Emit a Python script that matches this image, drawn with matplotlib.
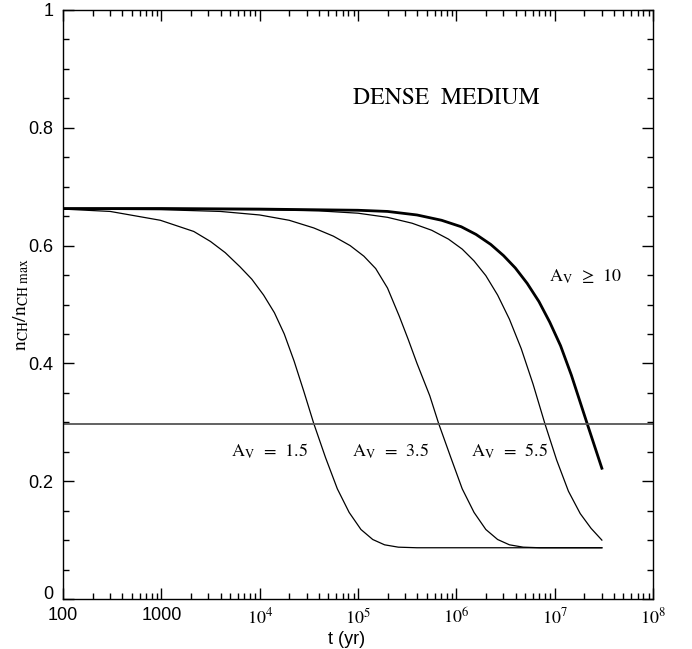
import numpy as np
import matplotlib
matplotlib.use('Agg')
import matplotlib.pyplot as plt
import matplotlib.transforms as mtransforms
from matplotlib.ticker import MultipleLocator, LogLocator, FixedLocator, FixedFormatter

plt.rcParams['mathtext.fontset'] = 'stix'
tickfont = ['Liberation Sans Narrow', 'Liberation Sans', 'DejaVu Sans']

# curves: log10(t/yr) and n_CH / n_CH max
av15_logt = [2.0, 2.48, 2.99, 3.33, 3.50, 3.65, 3.80, 3.92, 4.04, 4.15, 4.25, 4.35, 4.45, 4.55, 4.67, 4.79,
             4.91, 5.03, 5.15, 5.27, 5.41, 5.6, 7.48]
av15_n = [0.662, 0.658, 0.643, 0.624, 0.607, 0.588, 0.564, 0.543, 0.516, 0.486, 0.450, 0.404, 0.352, 0.298, 0.240, 0.187,
          0.147, 0.118, 0.101, 0.092, 0.088, 0.087, 0.087]

av35_logt = [2.0, 3.0, 3.6, 4.0, 4.3, 4.55, 4.75, 4.92, 5.06, 5.18, 5.30, 5.42, 5.51, 5.60, 5.73, 5.82,
             5.94, 6.06, 6.18, 6.30, 6.42, 6.54, 6.68, 6.85, 7.48]
av35_n = [0.662, 0.661, 0.658, 0.652, 0.643, 0.630, 0.616, 0.600, 0.582, 0.561, 0.528, 0.480, 0.441, 0.400, 0.345, 0.298,
          0.242, 0.187, 0.147, 0.118, 0.101, 0.092, 0.088, 0.087, 0.087]

av55_logt = [2.0, 4.0, 4.6, 5.0, 5.3, 5.55, 5.75, 5.92, 6.06, 6.18, 6.30, 6.42, 6.54, 6.66, 6.78, 6.90,
             7.02, 7.14, 7.26, 7.37, 7.48]
av55_n = [0.662, 0.661, 0.659, 0.655, 0.648, 0.638, 0.626, 0.611, 0.594, 0.574, 0.549, 0.516, 0.475, 0.425, 0.365, 0.298,
          0.236, 0.183, 0.145, 0.120, 0.100]

av10_logt = [2.0, 3.0, 4.0, 4.5, 5.0, 5.3, 5.6, 5.85, 6.05, 6.2, 6.35, 6.48, 6.6, 6.72, 6.84, 6.95, 7.06, 7.17, 7.33, 7.48]
av10_n = [0.663, 0.663, 0.662, 0.661, 0.660, 0.658, 0.652, 0.643, 0.632, 0.619, 0.602, 0.583, 0.562, 0.536, 0.505, 0.470,
          0.430, 0.380, 0.298, 0.222]

threshold = 0.297

labels = [r'A$_{\rm V}$  =  1.5', r'A$_{\rm V}$  =  3.5', r'A$_{\rm V}$  =  5.5', 'A$_{\\rm V}$  \u2265  10']
label_t = [1.25e4, 2.15e5, 3.45e6, 2.05e7]
label_n = [0.25, 0.25, 0.25, 0.547]

xticks = [1e2, 1e3, 1e4, 1e5, 1e6, 1e7, 1e8]
xticklabels = ['100', '1000', r'$10^{4}$', r'$10^{5}$', r'$10^{6}$', r'$10^{7}$', r'$10^{8}$']
yticks = [0, 0.2, 0.4, 0.6, 0.8, 1.0]
yticklabels = ['0', '0.2', '0.4', '0.6', '0.8', '1']

fig = plt.figure(figsize=(6.92, 6.49), dpi=100)
ax = fig.add_axes([63/692, 50/649, 590/692, 589/649])

ax.plot(10**np.array(av15_logt), av15_n, color='black', lw=0.9)
ax.plot(10**np.array(av35_logt), av35_n, color='black', lw=0.9)
ax.plot(10**np.array(av55_logt), av55_n, color='black', lw=0.9)
ax.plot(10**np.array(av10_logt), av10_n, color='black', lw=2.0)
ax.axhline(threshold, color='#555555', lw=1.3)

for s, x, y in zip(labels, label_t, label_n):
    ax.text(x, y, s, fontsize=13, family='STIXGeneral', ha='center', va='center')

ax.text(7.9e5, 0.85, 'DENSE  MEDIUM', fontsize=17, family='STIXGeneral', ha='center', va='center')

ax.set_xscale('log')
ax.set_xlim(100, 1e8)
ax.set_ylim(0, 1)

ax.xaxis.set_major_locator(FixedLocator(xticks))
ax.xaxis.set_major_formatter(FixedFormatter(xticklabels))
ax.xaxis.set_minor_locator(LogLocator(base=10, subs=np.arange(2, 10), numticks=20))
ax.xaxis.set_minor_formatter(plt.NullFormatter())
ax.yaxis.set_major_locator(FixedLocator(yticks))
ax.yaxis.set_major_formatter(FixedFormatter(yticklabels))
ax.yaxis.set_minor_locator(MultipleLocator(0.05))

ax.tick_params(which='both', direction='in', top=True, right=True, width=1, color='black')
ax.tick_params(which='major', length=8)
ax.tick_params(which='minor', length=4.5)
ax.tick_params(axis='x', which='major', pad=6, labelsize=13)
ax.tick_params(axis='y', which='major', pad=7, labelsize=13)
for lab in ax.get_xticklabels() + ax.get_yticklabels():
    lab.set_family(tickfont)

# lift the "0" a little so it sits above the "100"
ylabs = ax.get_yticklabels()
ylabs[0].set_transform(ylabs[0].get_transform() + mtransforms.ScaledTranslation(0, 5/72, fig.dpi_scale_trans))

for sp in ax.spines.values():
    sp.set_linewidth(1.0)

ax.set_xlabel('t (yr)', fontsize=13, family=tickfont)
ax.xaxis.set_label_coords(0.48, -0.055)
ax.set_ylabel(r'$\mathrm{n_{CH}/n_{CH\ max}}$', fontsize=14)
ax.yaxis.set_label_coords(-0.055, 0.5)

fig.savefig('out.png', dpi=100)
